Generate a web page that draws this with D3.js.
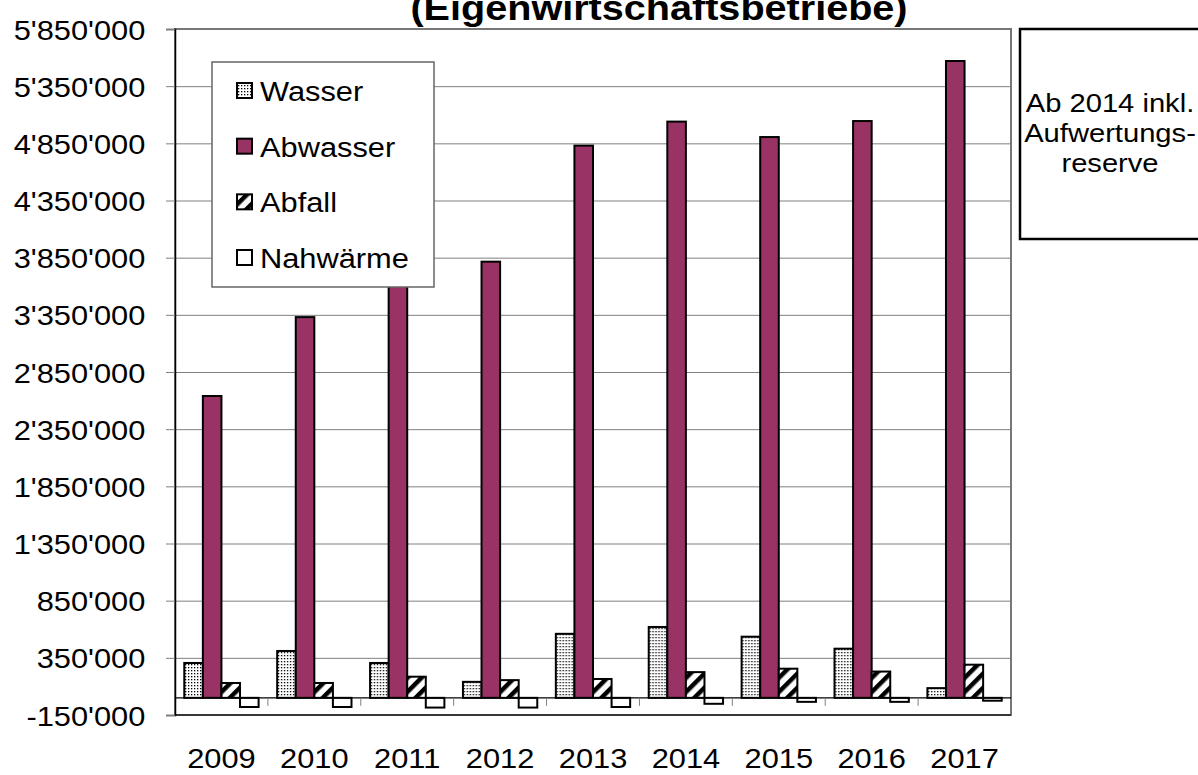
<!DOCTYPE html>
<html>
<head>
<meta charset="utf-8">
<script src="https://cdn.jsdelivr.net/npm/d3@7"></script>
<style>
  body { margin: 0; background: #fff; }
  svg { display: block; font-family: "Liberation Sans", Arial, sans-serif; }
</style>
</head>
<body>
<svg width="1198" height="775"></svg>
<script>
const years = ['2009', '2010', '2011', '2012', '2013', '2014', '2015', '2016', '2017'];
const seriesNames = ['Wasser', 'Abwasser', 'Abfall', 'Nahwärme'];
const wasser = [305000, 410000, 305000, 140000, 560000, 620000, 535000, 430000, 85000];
const abwasser = [2640000, 3330000, 3650000, 3815000, 4830000, 5040000, 4905000, 5045000, 5570000];
const abfall = [130000, 130000, 185000, 155000, 165000, 225000, 255000, 230000, 290000];
const nahwaerme = [-80000, -80000, -85000, -85000, -80000, -52000, -35000, -35000, -25000];
const yTicks = [-150000, 350000, 850000, 1350000, 1850000, 2350000, 2850000, 3350000,
  3850000, 4350000, 4850000, 5350000, 5850000];
const titleText = '(Eigenwirtschaftsbetriebe)';
const noteLines = ['Ab 2014 inkl.', 'Aufwertungs-', 'reserve'];

const seriesValues = [wasser, abwasser, abfall, nahwaerme];

const plotLeft = 175, plotRight = 1011, plotTop = 29, plotBottom = 715;
const stretch = 1.1; // the reference text is a bit wider than Liberation Sans

const svg = d3.select('svg');

// fill patterns
const defs = svg.append('defs');
const dots = defs.append('pattern')
  .attr('id', 'dots').attr('patternUnits', 'userSpaceOnUse')
  .attr('width', 3).attr('height', 3);
dots.append('rect').attr('width', 3).attr('height', 3).attr('fill', '#fff');
dots.append('rect').attr('x', 1).attr('y', 1).attr('width', 1.3).attr('height', 1.3).attr('fill', '#000');

const hatch = defs.append('pattern')
  .attr('id', 'hatch').attr('patternUnits', 'userSpaceOnUse')
  .attr('width', 10).attr('height', 10)
  .attr('patternTransform', 'rotate(45)');
hatch.append('rect').attr('width', 10).attr('height', 10).attr('fill', '#fff');
hatch.append('rect').attr('width', 4.5).attr('height', 10).attr('fill', '#000');

const fills = ['url(#dots)', '#993366', 'url(#hatch)', '#fff'];

const fmt = d3.formatLocale({ decimal: '.', thousands: "'", grouping: [3], currency: ['', ''], minus: '-' }).format(',');

const x = d3.scaleBand().domain(years).range([plotLeft, plotRight]);
const x1 = d3.scaleBand().domain(seriesNames).range([0, x.bandwidth()]).paddingOuter(0.5);
const y = d3.scaleLinear().domain([-150000, 5850000]).range([plotBottom, plotTop]);

// stretched text helper
function label(g, tx, ty, str, anchor, size, weight) {
  return g.append('text')
    .attr('transform', `translate(${tx},${ty}) scale(${stretch},1)`)
    .attr('text-anchor', anchor || 'start')
    .style('font-size', (size || 28) + 'px')
    .style('font-weight', weight || 'normal')
    .text(str);
}

// title (its top is cut off in the reference too)
label(svg, 659, 20, titleText, 'middle', 36, 'bold');

// gridlines
svg.append('g')
  .attr('transform', `translate(${plotLeft},0)`)
  .call(d3.axisLeft(y).tickValues(yTicks).tickSize(-(plotRight - plotLeft)).tickFormat(''))
  .call(g => g.select('.domain').remove())
  .call(g => g.selectAll('line').attr('stroke', '#808080'));

// plot border
svg.append('rect')
  .attr('x', plotLeft).attr('y', plotTop)
  .attr('width', plotRight - plotLeft).attr('height', plotBottom - plotTop)
  .attr('fill', 'none').attr('stroke', '#777').attr('stroke-width', 2);
svg.append('line')
  .attr('x1', plotLeft).attr('x2', plotRight).attr('y1', plotBottom).attr('y2', plotBottom)
  .attr('stroke', '#222').attr('stroke-width', 1.5);

// y axis
const yAxis = svg.append('g')
  .attr('transform', `translate(${plotLeft},0)`)
  .call(d3.axisLeft(y).tickValues(yTicks).tickSize(9).tickPadding(18).tickFormat(fmt));
yAxis.select('.domain').attr('stroke', '#000').attr('stroke-width', 1.5);
yAxis.selectAll('line').attr('stroke', '#808080');
yAxis.selectAll('text')
  .attr('dy', null)
  .attr('y', 10)
  .attr('transform', `scale(${stretch},1)`)
  .style('font-size', '28px')
  .style('font-family', '"Liberation Sans", Arial, sans-serif')
  .attr('fill', '#000');

// x labels
const xAxis = svg.append('g')
  .attr('transform', `translate(0,${plotBottom})`)
  .call(d3.axisBottom(x).tickSize(0).tickPadding(0));
xAxis.select('.domain').remove();
xAxis.selectAll('text')
  .attr('dy', null)
  .attr('y', 53)
  .attr('x', 0)
  .attr('transform', `scale(${stretch},1)`)
  .style('font-size', '28px')
  .style('font-family', '"Liberation Sans", Arial, sans-serif')
  .attr('fill', '#000');

// bars
const groups = svg.append('g').selectAll('g')
  .data(years)
  .join('g')
  .attr('transform', d => `translate(${x(d)},0)`);

groups.selectAll('rect')
  .data((d, i) => seriesNames.map((s, k) => ({ s, k, v: seriesValues[k][i] })))
  .join('rect')
  .attr('x', d => x1(d.s))
  .attr('width', x1.bandwidth())
  .attr('y', d => y(Math.max(0, d.v)))
  .attr('height', d => Math.abs(y(d.v) - y(0)))
  .attr('fill', d => fills[d.k])
  .attr('stroke', '#000')
  .attr('stroke-width', 2);

// zero line with category ticks
svg.append('line')
  .attr('x1', plotLeft).attr('x2', plotRight).attr('y1', y(0)).attr('y2', y(0))
  .attr('stroke', '#000').attr('stroke-width', 1.2);
svg.append('g').selectAll('line')
  .data(years.slice(1))
  .join('line')
  .attr('x1', d => x(d)).attr('x2', d => x(d))
  .attr('y1', y(0)).attr('y2', y(0) + 8)
  .attr('stroke', '#808080');

// legend
const legend = svg.append('g');
legend.append('rect')
  .attr('x', 212).attr('y', 62).attr('width', 222).attr('height', 225)
  .attr('fill', '#fff').attr('stroke', '#666').attr('stroke-width', 1.5);
const legendRow = d3.scalePoint().domain(seriesNames).range([91, 258]);
seriesNames.forEach((s, k) => {
  legend.append('rect')
    .attr('x', 237).attr('y', legendRow(s) - 8)
    .attr('width', 15).attr('height', 15)
    .attr('fill', fills[k]).attr('stroke', '#000').attr('stroke-width', 2);
  label(legend, 260, legendRow(s) + 10, s, 'start', 28);
});

// note box
const note = svg.append('g');
note.append('rect')
  .attr('x', 1020).attr('y', 29).attr('width', 190).attr('height', 210)
  .attr('fill', '#fff').attr('stroke', '#000').attr('stroke-width', 2.5);
noteLines.forEach((t, i) => {
  label(note, 1110, 112 + i * 30, t, 'middle', 26.5);
});
</script>
</body>
</html>
